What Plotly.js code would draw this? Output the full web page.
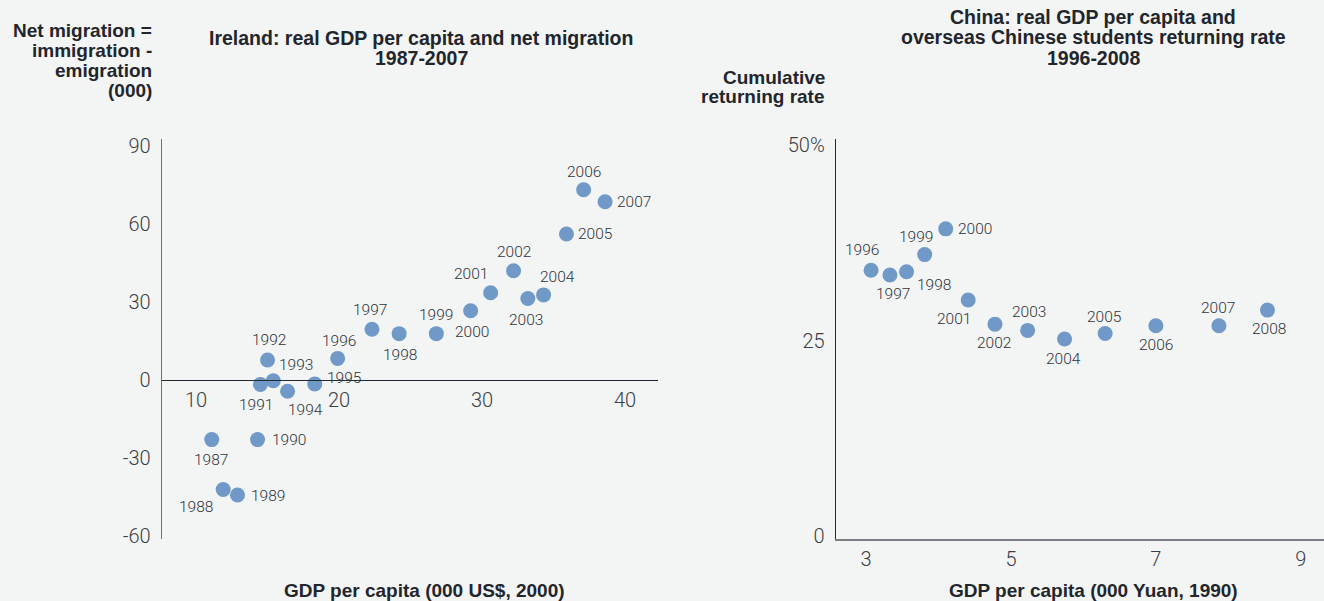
<!DOCTYPE html>
<html>
<head>
<meta charset="utf-8">
<script src="https://cdn.plot.ly/plotly-3.0.1.min.js"></script>
<style>
  html, body { margin: 0; padding: 0; background: #f3f4f4; }
  #chart { width: 1324px; height: 601px; }
</style>
</head>
<body>
<div id="chart"></div>
<script>
// ---- Ireland: real GDP per capita (000 US$, 2000) vs net migration (000) ----
const irelandYears = ["1987","1988","1989","1990","1991","1992","1993","1994","1995","1996","1997",
                      "1998","1999","2000","2001","2002","2003","2004","2005","2006","2007"];
const irelandGdp = [11.1, 11.9, 12.9, 14.3, 14.5, 15.0, 15.4, 16.4, 18.3, 19.9, 22.3,
                    24.2, 26.8, 29.2, 30.6, 32.2, 33.2, 34.3, 35.9, 37.1, 38.6];
const irelandMigration = [-23.0, -42.2, -44.3, -23.0, -1.8, 7.6, -0.4, -4.4, -1.6, 8.2, 19.4,
                          17.7, 17.7, 26.5, 33.4, 41.9, 31.2, 32.6, 56.0, 73.0, 68.4];
const irelandXTicks = [10, 20, 30, 40];
const irelandYTicks = [-60, -30, 0, 30, 60, 90];
const irelandYTickText = ["-60", "-30", "0", "30", "60", "90"];

// ---- China: real GDP per capita (000 Yuan, 1990) vs cumulative returning rate (%) ----
const chinaYears = ["1996","1997","1998","1999","2000","2001","2002","2003","2004","2005","2006","2007","2008"];
const chinaGdp = [3.07, 3.33, 3.56, 3.81, 4.10, 4.41, 4.78, 5.23, 5.74, 6.30, 7.00, 7.87, 8.54];
const chinaRate = [34.0, 33.4, 33.8, 36.0, 39.3, 30.2, 27.1, 26.3, 25.2, 25.9, 26.9, 26.9, 28.9];
const chinaXTicks = [3, 5, 7, 9];
const chinaYTicks = [0, 25, 50];
const chinaYTickText = ["0", "25", "50%"];

// ---- text blocks ----
const irelandTitle = ["Ireland: real GDP per capita and net migration", "1987-2007"];
const irelandYTitle = ["Net migration =", "immigration -", "emigration", "(000)"];
const irelandXTitle = "GDP per capita (000 US$, 2000)";
const chinaTitle = ["China: real GDP per capita and", "overseas Chinese students returning rate", "1996-2008"];
const chinaYTitle = ["Cumulative", "returning rate"];
const chinaXTitle = "GDP per capita (000 Yuan, 1990)";

// ---- label placement (pixel offset of each year label from its dot) ----
const irelandLabelShift = [[-1,20],[-27,17],[30,1],[31,0],[-4,21],[1,-20],[23,-16],[18,19],[29,-6],[1,-17],[-2,-19],
                           [1,21],[0,-19],[1,21],[-20,-19],[0,-19],[-2,21],[14,-18],[29,0],[0,-18],[29,0]];
const chinaLabelShift = [[-9,-20],[3,19],[27,13],[-9,-18],[29,0],[-14,19],[-1,19],[1,-18],[-1,20],[-1,-17],[0,19],[-1,-18],[2,19]];

// ---- styling ----
const W = 1324, H = 601;
const dotColor = "#7099c8";
const textColor = "#2f353b";
const fontFam = "Liberation Sans, Arial, sans-serif";
const lightFam = "Roboto, Liberation Sans, Arial, sans-serif";
const yDom = [1 - 539 / H, 1 - 139 / H];
const leftXRange = [7.62, 42.3];
const leftYRange = [-61.2, 92.5];
const rightXRange = [2.586, 9.32];
const rightYRange = [-0.4, 50.8];
const zeroPos = yDom[0] + (0 - leftYRange[0]) / (leftYRange[1] - leftYRange[0]) * (yDom[1] - yDom[0]);

const labelFont = { family: lightFam, size: 15.5, color: textColor, weight: 300 };
const traces = [
  {
    type: "scatter", mode: "markers",
    x: irelandGdp, y: irelandMigration,
    marker: { size: 15, color: dotColor },
    xaxis: "x", yaxis: "y", cliponaxis: false, hoverinfo: "skip"
  },
  {
    type: "scatter", mode: "markers",
    x: chinaGdp, y: chinaRate,
    marker: { size: 15, color: dotColor },
    xaxis: "x2", yaxis: "y2", cliponaxis: false, hoverinfo: "skip"
  }
];

const tickFont = { family: lightFam, size: 20, color: "#3a3f44", weight: 300 };
const titleFont = { family: fontFam, size: 19.5, color: "#1f262c", weight: "bold" };
const axTitleFont = { family: fontFam, size: 19, color: "#1f262c", weight: "bold" };

function lines(arr, x, yTop, step, xanchor, font) {
  return arr.map((t, i) => ({
    text: "<b>" + t + "</b>", xref: "paper", yref: "paper",
    x: x / W, y: 1 - (yTop + i * step) / H, xanchor: xanchor, yanchor: "middle",
    showarrow: false, font: font, borderpad: 0
  }));
}

function pointLabels(xs, ys, texts, shifts, xr, yr) {
  return texts.map((t, i) => ({
    text: t, x: xs[i], y: ys[i], xref: xr, yref: yr,
    xanchor: "center", yanchor: "middle",
    xshift: shifts[i][0], yshift: -shifts[i][1],
    showarrow: false, font: labelFont, borderpad: 0
  }));
}

const annotations = [].concat(
  lines(irelandTitle, 421, 38, 19.8, "center", titleFont),
  lines(irelandYTitle, 153, 31, 19.7, "right", axTitleFont),
  lines([irelandXTitle], 424, 590, 0, "center", axTitleFont),
  lines(chinaTitle, 1093, 17.5, 20, "center", titleFont),
  lines(chinaYTitle, 826, 77, 20, "right", axTitleFont),
  lines([chinaXTitle], 1093, 590, 0, "center", axTitleFont),
  pointLabels(irelandGdp, irelandMigration, irelandYears, irelandLabelShift, "x", "y"),
  pointLabels(chinaGdp, chinaRate, chinaYears, chinaLabelShift, "x2", "y2")
);

const layout = {
  width: W, height: H,
  margin: { l: 0, r: 0, t: 0, b: 0 },
  paper_bgcolor: "#f3f4f4", plot_bgcolor: "#f3f4f4",
  showlegend: false,
  font: { family: fontFam },
  xaxis: {
    domain: [162 / W, 658 / W], range: leftXRange, anchor: "free", position: zeroPos,
    tickvals: irelandXTicks, showgrid: false, zeroline: false,
    showline: true, linecolor: "#1f2a33", linewidth: 1.3,
    ticks: "", tickfont: tickFont, ticklabelstandoff: 2
  },
  yaxis: {
    domain: yDom, range: leftYRange, anchor: "x",
    tickvals: irelandYTicks, ticktext: irelandYTickText, showgrid: false, zeroline: false,
    showline: true, linecolor: "#6b7075", linewidth: 1.3,
    ticks: "", tickfont: tickFont, ticklabelstandoff: 6
  },
  xaxis2: {
    domain: [836 / W, 1], range: rightXRange, anchor: "y2",
    tickvals: chinaXTicks, showgrid: false, zeroline: false,
    showline: true, linecolor: "#7a7f84", linewidth: 2,
    ticks: "", tickfont: tickFont, ticklabelstandoff: 1
  },
  yaxis2: {
    domain: yDom, range: rightYRange, anchor: "x2",
    tickvals: chinaYTicks, ticktext: chinaYTickText, showgrid: false, zeroline: false,
    showline: true, linecolor: "#1f2a33", linewidth: 1.3,
    ticks: "", tickfont: tickFont, ticklabelstandoff: 6
  },
  annotations: annotations
};

Plotly.newPlot("chart", traces, layout, { displayModeBar: false, staticPlot: true });
</script>
</body>
</html>
